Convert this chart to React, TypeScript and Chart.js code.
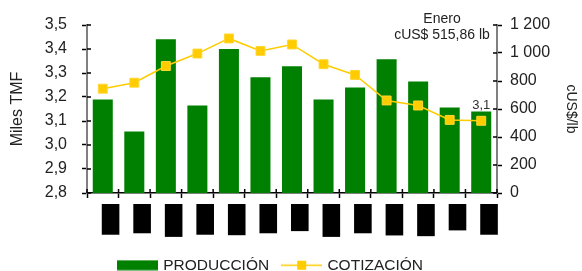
import React, { useEffect, useRef } from 'react';
import { Chart, registerables } from 'chart.js';

Chart.register(...registerables);

// ---- data ----
const months = ['ENE', 'FEB', 'MAR', 'ABR', 'MAY', 'JUN', 'JUL', 'AGO', 'SET', 'OCT', 'NOV', 'DIC', 'ENE'];
const produccion = [3.19, 3.056, 3.441, 3.165, 3.4, 3.282, 3.328, 3.19, 3.24, 3.357, 3.265, 3.156, 3.14];
const cotizacion = [745, 788, 907, 996, 1104, 1015, 1061, 920, 843, 661, 625, 522, 515.86];
const leftAxisRange = [2.8, 3.5, 0.1];
const rightAxisRange = [0, 1200, 200];
const seriesNames = ['PRODUCCIÓN', 'COTIZACIÓN'];
const axisTitles = ['Miles TMF', 'cUS$/lb'];
const noteMonth = 'Enero';

const GREEN = '#008000';
const YELLOW = '#FFCC00';
const FONT = "'Liberation Sans', Arial, sans-serif";

const W = 582;
const H = 271;

const fmtLeft = (v: number) => v.toFixed(1).replace('.', ',');
const fmtRight = (v: number) => String(Math.round(v)).replace(/\B(?=(\d{3})+(?!\d))/g, ' ');

function swatch(kind: 'bar' | 'line') {
  const c = document.createElement('canvas');
  c.width = 41;
  c.height = 11;
  const g = c.getContext('2d')!;
  if (kind === 'bar') {
    g.fillStyle = GREEN;
    g.fillRect(0, 0.5, 41, 10);
  } else {
    g.strokeStyle = YELLOW;
    g.lineWidth = 1.5;
    g.beginPath();
    g.moveTo(0, 5.5);
    g.lineTo(41, 5.5);
    g.stroke();
    g.fillStyle = YELLOW;
    g.fillRect(16, 1, 9, 9);
  }
  return c;
}

const innerTicks = {
  id: 'innerTicks',
  afterDraw(chart: any) {
    const { ctx, chartArea } = chart;
    const y = chart.scales.y;
    const y1 = chart.scales.y1;
    const x = chart.scales.x;
    ctx.save();
    ctx.strokeStyle = '#000';
    ctx.lineWidth = 1.5;
    ctx.beginPath();
    y.ticks.forEach((t: any) => {
      const py = y.getPixelForValue(t.value);
      ctx.moveTo(chartArea.left, py);
      ctx.lineTo(chartArea.left + 4, py);
    });
    y1.ticks.forEach((t: any) => {
      const py = y1.getPixelForValue(t.value);
      ctx.moveTo(chartArea.right, py);
      ctx.lineTo(chartArea.right - 4, py);
    });
    for (let i = 0; i <= months.length; i++) {
      const px = x.getPixelForValue(i - 0.5);
      ctx.moveTo(px, chartArea.bottom);
      ctx.lineTo(px, chartArea.bottom - 4);
    }
    ctx.stroke();
    ctx.restore();
  },
};

// shift the legend so it sits left of centre, as in the original
const legendShift = {
  id: 'legendShift',
  afterLayout(chart: any) {
    const lg = chart.legend;
    if (lg) lg.left = chart.chartArea.left + 18;
  },
};

const notes = {
  id: 'notes',
  afterDatasetsDraw(chart: any) {
    const { ctx, chartArea } = chart;
    ctx.save();
    // data label on last bar
    const meta = chart.getDatasetMeta(0);
    const last = meta.data[meta.data.length - 1];
    ctx.fillStyle = '#333';
    ctx.font = `13px ${FONT}`;
    ctx.textAlign = 'center';
    ctx.textBaseline = 'bottom';
    ctx.fillText(fmtLeft(produccion[produccion.length - 1]), last.x, last.y + 1);
    // annotation
    const cx = chartArea.right - 55;
    ctx.fillStyle = '#222';
    ctx.font = `14px ${FONT}`;
    ctx.textBaseline = 'alphabetic';
    ctx.fillText(noteMonth, cx, chartArea.top - 2);
    const v = cotizacion[cotizacion.length - 1].toFixed(2).replace('.', ',');
    ctx.fillText(`cUS$ ${v} lb`, cx, chartArea.top + 14);
    ctx.restore();
  },
};

export default function App() {
  const ref = useRef<HTMLCanvasElement>(null);

  useEffect(() => {
    document.body.style.margin = '0';
    const canvas = ref.current!;
    const barImg = swatch('bar');
    const lineImg = swatch('line');

    const chart = new Chart(canvas, {
      type: 'bar',
      data: {
        labels: months,
        datasets: [
          {
            type: 'bar',
            label: seriesNames[0],
            data: produccion,
            backgroundColor: GREEN,
            borderWidth: 0,
            yAxisID: 'y',
            categoryPercentage: 1,
            barPercentage: 0.635,
            order: 1,
          } as any,
          {
            type: 'line',
            label: seriesNames[1],
            data: cotizacion,
            borderColor: YELLOW,
            backgroundColor: YELLOW,
            borderWidth: 1.5,
            pointStyle: 'rect',
            pointRadius: 6.3,
            pointBorderWidth: 1,
            pointBorderColor: '#FFD633',
            pointBackgroundColor: YELLOW,
            yAxisID: 'y1',
            order: 0,
            tension: 0,
          } as any,
        ],
      },
      options: {
        animation: false,
        responsive: false,
        devicePixelRatio: 1,
        layout: { padding: { left: 0, right: 0, top: 25, bottom: -12 } },
        font: { family: FONT },
        plugins: {
          tooltip: { enabled: false },
          legend: {
            position: 'bottom',
            align: 'start',
            labels: {
              usePointStyle: true,
              pointStyleWidth: 36,
              padding: 14.5,
              color: '#222',
              font: { family: FONT, size: 15.5 },
              sort: (a: any, b: any) => a.datasetIndex - b.datasetIndex,
              generateLabels: () => [
                { text: seriesNames[0], pointStyle: barImg, datasetIndex: 0, hidden: false, fontColor: '#222', lineWidth: 0, fillStyle: GREEN, strokeStyle: GREEN },
                { text: seriesNames[1], pointStyle: lineImg, datasetIndex: 1, hidden: false, fontColor: '#222', lineWidth: 0, fillStyle: YELLOW, strokeStyle: YELLOW },
              ] as any,
            },
          },
        },
        scales: {
          x: {
            type: 'category',
            offset: true,
            grid: { offset: true, drawOnChartArea: false, drawTicks: true, tickLength: 5, tickColor: '#000', tickWidth: 1.5 },
            border: { color: '#000', width: 1.5 },
            ticks: {
              autoSkip: false,
              minRotation: 90,
              maxRotation: 90,
              padding: 8,
              color: '#000',
              font: { family: FONT, size: 13 },
              showLabelBackdrop: true,
              backdropColor: '#000',
              backdropPadding: { left: 2, right: 2, top: 1, bottom: 1 },
            } as any,
            afterFit: (s: any) => {
              s.height = 50;
            },
          },
          y: {
            type: 'linear',
            position: 'left',
            min: leftAxisRange[0],
            max: leftAxisRange[1],
            grid: { drawOnChartArea: false, drawTicks: true, tickLength: 5, tickColor: '#000', tickWidth: 1.5 },
            border: { color: '#808080', width: 2 },
            ticks: {
              stepSize: leftAxisRange[2],
              padding: 15,
              color: '#222',
              font: { family: FONT, size: 16 },
              callback: (v: any) => fmtLeft(Number(v)),
            },
            title: {
              display: true,
              text: axisTitles[0],
              color: '#222',
              font: { family: FONT, size: 16 },
              padding: { top: 8, bottom: 0 },
            },
            afterFit: (s: any) => {
              s.width = 87;
            },
          },
          y1: {
            type: 'linear',
            position: 'right',
            min: rightAxisRange[0],
            max: rightAxisRange[1],
            grid: { drawOnChartArea: false, drawTicks: true, tickLength: 5, tickColor: '#000', tickWidth: 1.5 },
            border: { color: '#808080', width: 2 },
            ticks: {
              stepSize: rightAxisRange[2],
              padding: 8,
              color: '#222',
              font: { family: FONT, size: 16 },
              callback: (v: any) => fmtRight(Number(v)),
            },
            title: {
              display: true,
              text: axisTitles[1],
              color: '#222',
              font: { family: FONT, size: 14 },
              padding: { top: 3, bottom: 0 },
            },
            afterFit: (s: any) => {
              s.width = 85;
            },
          },
        },
      },
      plugins: [innerTicks, notes, legendShift],
    });

    return () => chart.destroy();
  }, []);

  return <canvas ref={ref} width={W} height={H} style={{ display: 'block', width: W, height: H }} />;
}
